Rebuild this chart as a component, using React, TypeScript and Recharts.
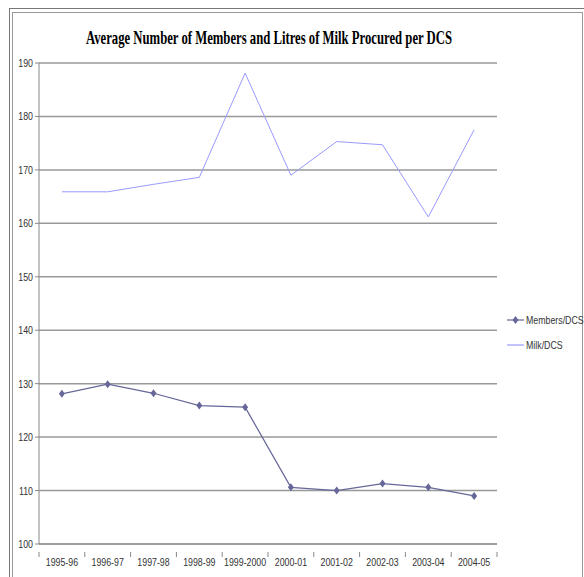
import React from "react";
import { LineChart, Line, XAxis, YAxis, CartesianGrid } from "recharts";

const years = [
  "1995-96",
  "1996-97",
  "1997-98",
  "1998-99",
  "1999-2000",
  "2000-01",
  "2001-02",
  "2002-03",
  "2003-04",
  "2004-05",
];
const membersPerDcs = [128.1, 129.9, 128.2, 125.9, 125.6, 110.6, 110.0, 111.3, 110.6, 109.0];
const milkPerDcs = [165.9, 165.9, 167.3, 168.6, 188.1, 169.0, 175.3, 174.7, 161.2, 177.5];
const yTicks = [100, 110, 120, 130, 140, 150, 160, 170, 180, 190];

const TITLE = "Average Number of Members and Litres of Milk Procured per DCS";
const SERIES = [
  { key: "members", name: "Members/DCS", color: "#666699", marker: true },
  { key: "milk", name: "Milk/DCS", color: "#9999ff", marker: false },
];

const data = years.map((year, i) => ({
  year,
  members: membersPerDcs[i],
  milk: milkPerDcs[i],
}));

const W = 584;
const H = 577;
const PLOT_LEFT = 39;
const PLOT_RIGHT = 497;
const BAND = (PLOT_RIGHT - PLOT_LEFT) / years.length;
const tickFont = "'Liberation Sans', Arial, sans-serif";
const TITLE_SQUEEZE = 0.7;

// Arial Narrow look-alike: squeeze the regular sans horizontally
const NarrowText = ({ x, y, anchor = "start", children }: any) => (
  <text
    transform={`translate(${x},${y}) scale(0.8,1)`}
    textAnchor={anchor}
    fontSize={11}
    fontFamily={tickFont}
    fill="#333"
  >
    {children}
  </text>
);

const Diamond = (props: any) => {
  const { cx, cy, fill } = props;
  if (cx == null || cy == null) return null;
  return (
    <polygon
      points={`${cx},${cy - 4} ${cx + 3},${cy} ${cx},${cy + 4} ${cx - 3},${cy}`}
      fill={fill}
    />
  );
};

// category labels with Excel-style tick marks between the categories
const XTick = (props: any) => {
  const { x, y, payload, index } = props;
  const left = x - BAND / 2;
  return (
    <g>
      <line x1={left} y1={y} x2={left} y2={y + 5} stroke="#888" />
      {index === years.length - 1 && (
        <line x1={x + BAND / 2} y1={y} x2={x + BAND / 2} y2={y + 5} stroke="#888" />
      )}
      <NarrowText x={x} y={y + 14} anchor="middle">
        {payload.value}
      </NarrowText>
    </g>
  );
};

const YTick = (props: any) => {
  const { x, y, payload } = props;
  return (
    <g>
      <line x1={PLOT_LEFT - 4} y1={y} x2={PLOT_LEFT} y2={y} stroke="#888" />
      <NarrowText x={x} y={y + 4} anchor="end">
        {payload.value}
      </NarrowText>
    </g>
  );
};

export default function App() {
  return (
    <div style={{ position: "absolute", left: 0, top: 0, width: W, height: H, background: "#fff", overflow: "hidden" }}>
      {/* chart frame */}
      <div
        style={{
          position: "absolute",
          left: 9,
          top: 8,
          width: 590,
          height: 590,
          border: "1.5px solid #777",
          boxSizing: "border-box",
        }}
      />
      <div
        style={{
          position: "absolute",
          left: 12,
          top: 12,
          width: 571,
          height: 590,
          border: "1px solid #999",
          boxSizing: "border-box",
        }}
      />
      <svg style={{ position: "absolute", left: 0, top: 0 }} width={W} height={60}>
        <text
          transform={`translate(86,44) scale(${TITLE_SQUEEZE},1)`}
          fontSize={18}
          fontWeight="bold"
          fontFamily="'Liberation Serif', 'DejaVu Serif', serif"
          textLength={366 / TITLE_SQUEEZE}
          lengthAdjust="spacingAndGlyphs"
          fill="#000"
        >
          {TITLE}
        </text>
      </svg>
      <div style={{ position: "absolute", left: 0, top: 0 }}>
        <LineChart
          width={W}
          height={H}
          data={data}
          margin={{ top: 63, right: W - PLOT_RIGHT, bottom: 3, left: 0 }}
        >
          <CartesianGrid horizontal vertical={false} stroke="#999" strokeWidth={1.5} />
          <XAxis
            dataKey="year"
            height={30}
            interval={0}
            padding={{ left: BAND / 2, right: BAND / 2 }}
            axisLine={{ stroke: "#888" }}
            tickLine={false}
            tick={<XTick />}
          />
          <YAxis
            width={PLOT_LEFT}
            domain={[100, 190]}
            ticks={yTicks}
            interval={0}
            axisLine={{ stroke: "#888" }}
            tickLine={false}
            tickSize={4}
            tick={<YTick />}
          />
          <Line
            dataKey="members"
            name="Members/DCS"
            stroke="#666699"
            strokeWidth={1.2}
            dot={<Diamond fill="#666699" />}
            isAnimationActive={false}
          />
          <Line
            dataKey="milk"
            name="Milk/DCS"
            stroke="#9999ff"
            strokeWidth={1}
            dot={false}
            isAnimationActive={false}
          />
        </LineChart>
      </div>
      <svg style={{ position: "absolute", left: 500, top: 305 }} width={84} height={50}>
        {SERIES.map((s, i) => {
          const cy = 15 + i * 25;
          return (
            <g key={s.key}>
              <line x1={7} y1={cy} x2={24} y2={cy} stroke={s.color} strokeWidth={1.2} />
              {s.marker && <Diamond cx={15.5} cy={cy} fill={s.color} />}
              <NarrowText x={26} y={cy + 4}>
                {s.name}
              </NarrowText>
            </g>
          );
        })}
      </svg>
    </div>
  );
}
